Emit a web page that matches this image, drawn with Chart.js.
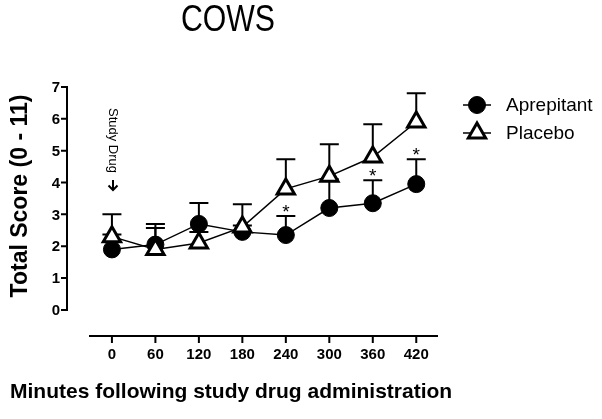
<!DOCTYPE html>
<html>
<head>
<meta charset="utf-8">
<script src="https://cdn.jsdelivr.net/npm/chart.js@4.4.0/dist/chart.umd.min.js"></script>
<style>
  body { margin: 0; background: #fff; }
  #wrap { width: 602px; height: 419px; }
</style>
</head>
<body>
<div id="wrap"><canvas id="cowsChart" width="602" height="419"></canvas></div>
<script>
// values
const minutes = [0, 60, 120, 180, 240, 300, 360, 420];
const aprepitant = [1.9, 2.05, 2.7, 2.45, 2.35, 3.2, 3.35, 3.95];
const placebo = [2.3, 1.9, 2.1, 2.6, 3.8, 4.2, 4.8, 5.9];
const aprepitantErr = [0.47, 0.52, 0.66, 0.2, 0.6, 0.9, 0.72, 0.78];
const placeboErr = [0.7, 0.8, 0.35, 0.72, 0.93, 1.0, 1.03, 0.9];
const significant = [false, false, false, false, true, false, true, true];
const yTicks = [0, 1, 2, 3, 4, 5, 6, 7];
const xTicks = [0, 60, 120, 180, 240, 300, 360, 420];

const FONT = "'Liberation Sans', Arial, Helvetica, sans-serif";

function toPoints(vals) {
    return minutes.map(function (m, i) { return { x: m, y: vals[i] }; });
}

// error bars (upper only), drawn under the markers
const errorBars = {
    id: 'errorBars',
    beforeDatasetsDraw: function (chart) {
        const ctx = chart.ctx;
        const xs = chart.scales.x, ys = chart.scales.y;
        const sets = [[aprepitant, aprepitantErr], [placebo, placeboErr]];
        ctx.save();
        ctx.strokeStyle = '#000';
        ctx.lineWidth = 2;
        sets.forEach(function (s) {
            s[0].forEach(function (v, i) {
                const x = xs.getPixelForValue(minutes[i]);
                const y0 = ys.getPixelForValue(v);
                const y1 = ys.getPixelForValue(v + s[1][i]);
                ctx.beginPath();
                ctx.moveTo(x, y0);
                ctx.lineTo(x, y1);
                ctx.moveTo(x - 9.5, y1);
                ctx.lineTo(x + 9.5, y1);
                ctx.stroke();
            });
        });
        ctx.restore();
    }
};

// axes, labels, title, legend and notes
const decorations = {
    id: 'decorations',
    afterDraw: function (chart) {
        const ctx = chart.ctx;
        const xs = chart.scales.x, ys = chart.scales.y;
        const area = chart.chartArea;
        ctx.save();
        ctx.fillStyle = '#000';
        ctx.strokeStyle = '#000';
        ctx.lineWidth = 2;

        // y axis
        const yTop = ys.getPixelForValue(yTicks[yTicks.length - 1]);
        const yBot = ys.getPixelForValue(yTicks[0]);
        ctx.beginPath();
        ctx.moveTo(area.left, yTop - 1);
        ctx.lineTo(area.left, yBot + 1);
        yTicks.forEach(function (t) {
            const y = ys.getPixelForValue(t);
            ctx.moveTo(area.left - 6, y);
            ctx.lineTo(area.left, y);
        });
        ctx.stroke();
        ctx.font = 'bold 15px ' + FONT;
        ctx.textAlign = 'right';
        ctx.textBaseline = 'middle';
        yTicks.forEach(function (t) {
            ctx.fillText(String(t), area.left - 7, ys.getPixelForValue(t) + 1);
        });

        // x axis (detached)
        const axisY = area.bottom;
        ctx.beginPath();
        ctx.moveTo(89, axisY);
        ctx.lineTo(area.right, axisY);
        xTicks.forEach(function (t) {
            const x = xs.getPixelForValue(t);
            ctx.moveTo(x, axisY);
            ctx.lineTo(x, axisY + 7);
        });
        ctx.stroke();
        ctx.textAlign = 'center';
        ctx.textBaseline = 'alphabetic';
        xTicks.forEach(function (t) {
            ctx.fillText(String(t), xs.getPixelForValue(t), 359);
        });

        // axis titles
        ctx.font = 'bold 21px ' + FONT;
        ctx.textAlign = 'left';
        ctx.fillText('Minutes following study drug administration', 10, 398);
        ctx.save();
        ctx.translate(27, 196);
        ctx.rotate(-Math.PI / 2);
        ctx.font = 'bold 23px ' + FONT;
        ctx.textAlign = 'center';
        ctx.fillText('Total Score (0 - 11)', 0, 0);
        ctx.restore();

        // chart title
        ctx.save();
        ctx.translate(228, 31);
        ctx.scale(0.84, 1);
        ctx.font = '36px ' + FONT;
        ctx.textAlign = 'center';
        ctx.fillText('COWS', 0, 0);
        ctx.restore();

        // study drug note
        ctx.save();
        ctx.translate(113, 108);
        ctx.rotate(Math.PI / 2);
        ctx.font = '13px ' + FONT;
        ctx.textAlign = 'left';
        ctx.textBaseline = 'middle';
        ctx.fillText('Study Drug', 0, 0);
        ctx.restore();
        ctx.beginPath();
        ctx.moveTo(113, 180);
        ctx.lineTo(113, 190);
        ctx.moveTo(108.5, 185.5);
        ctx.lineTo(113, 190);
        ctx.lineTo(117.5, 185.5);
        ctx.stroke();

        // significance stars
        ctx.font = '19px ' + FONT;
        ctx.textAlign = 'center';
        ctx.textBaseline = 'alphabetic';
        significant.forEach(function (s, i) {
            if (!s) return;
            const x = xs.getPixelForValue(minutes[i]);
            const y = ys.getPixelForValue(aprepitant[i] + aprepitantErr[i]);
            ctx.fillText('*', x, y + 2);
        });

        // legend
        const items = [[chart.data.datasets[0], 105], [chart.data.datasets[1], 133]];
        ctx.font = '19px ' + FONT;
        ctx.textAlign = 'left';
        ctx.textBaseline = 'middle';
        items.forEach(function (it) {
            const ds = it[0], y = it[1];
            ctx.lineWidth = 1.5;
            ctx.beginPath();
            ctx.moveTo(463, y);
            ctx.lineTo(491, y);
            ctx.stroke();
            ctx.fillStyle = ds.pointBackgroundColor;
            ctx.strokeStyle = '#000';
            ctx.lineWidth = ds.pointBorderWidth;
            Chart.helpers.drawPoint(ctx, {
                pointStyle: ds.pointStyle,
                radius: ds.pointRadius,
                borderWidth: ds.pointBorderWidth,
                rotation: 0
            }, 477, y);
            ctx.fillStyle = '#000';
            ctx.fillText(ds.label, 506, y + 1);
        });
        ctx.restore();
    }
};

const ctx = document.getElementById('cowsChart').getContext('2d');
new Chart(ctx, {
    type: 'line',
    data: {
        datasets: [{
            label: 'Aprepitant',
            data: toPoints(aprepitant),
            borderColor: '#000',
            borderWidth: 1.5,
            pointStyle: 'circle',
            pointRadius: 8.5,
            pointBackgroundColor: '#000',
            pointBorderColor: '#000',
            pointBorderWidth: 1,
            order: 1
        }, {
            label: 'Placebo',
            data: toPoints(placebo),
            borderColor: '#000',
            borderWidth: 1.5,
            pointStyle: 'triangle',
            pointRadius: 10,
            pointBackgroundColor: '#fff',
            pointBorderColor: '#000',
            pointBorderWidth: 3,
            order: 0
        }]
    },
    options: {
        responsive: false,
        animation: false,
        devicePixelRatio: 1,
        layout: { padding: { left: 67, right: 164, top: 87, bottom: 83 } },
        plugins: { legend: { display: false }, title: { display: false }, tooltip: { enabled: false } },
        scales: {
            x: { type: 'linear', display: false, min: -62, max: 450 },
            y: { display: false, min: -0.82, max: 7 }
        }
    },
    plugins: [errorBars, decorations]
});
</script>
</body>
</html>
